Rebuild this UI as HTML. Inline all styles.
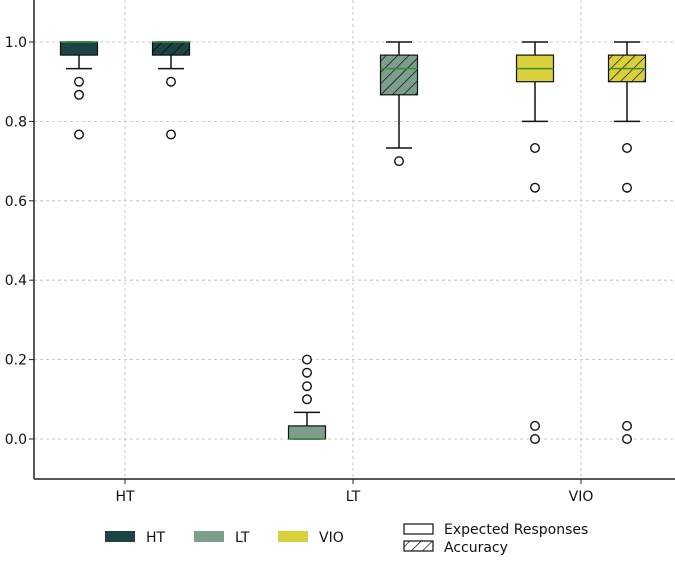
<!DOCTYPE html>
<html><head><meta charset="utf-8"><style>
body{margin:0;background:#fff;}
svg text{font-family:"DejaVu Sans","Liberation Sans",sans-serif;}
</style></head><body>
<svg id="chart" width="675" height="557" xmlns="http://www.w3.org/2000/svg">
<defs>
<pattern id="hatch" patternUnits="userSpaceOnUse" width="8" height="8" patternTransform="rotate(45)">
<line x1="0" y1="0" x2="0" y2="8" stroke="#000" stroke-width="1.3"/>
</pattern>
</defs>
<g id="grid"></g><g id="marks"></g><g id="axes"></g>
</svg>
<script>
const categories=["HT","LT","VIO"];
const colors=["#1d4444","#7c9e8b","#d9d03c"];
const yTicks=[0,0.2,0.4,0.6,0.8,1.0];
const tickLabels=["0.0","0.2","0.4","0.6","0.8","1.0"];
// [whiskerLow, q1, median, q3, whiskerHigh]
const expectedStats=[[0.933,0.967,1.0,1.0,1.0],[0,0,0.0,0.033,0.067],[0.8,0.9,0.933,0.967,1.0]];
const accuracyStats=[[0.933,0.967,1.0,1.0,1.0],[0.733,0.867,0.933,0.967,1.0],[0.8,0.9,0.933,0.967,1.0]];
const expectedOutliers=[[0.9,0.867,0.767],[0.1,0.133,0.167,0.2],[0.733,0.633,0.033,0]];
const accuracyOutliers=[[0.9,0.767],[0.7],[0.733,0.633,0.033,0]];
const NS="http://www.w3.org/2000/svg";
const y=v=>439-397*v;
const x=i=>125+228*i;
function mk(p,t,a){const e=document.createElementNS(NS,t);for(const k in a)e.setAttribute(k,a[k]);p.appendChild(e);return e;}
const grid=document.getElementById('grid'),marks=document.getElementById('marks'),axes=document.getElementById('axes');
yTicks.forEach((v,i)=>{
const g=mk(grid,'line',{x1:34,x2:675,y1:y(v),y2:y(v),stroke:'#bbb','stroke-dasharray':'3,3','stroke-width':0.8});

mk(axes,'line',{x1:29,x2:34,y1:y(v),y2:y(v),stroke:'#222','stroke-width':1});
const t=mk(axes,'text',{x:27,y:y(v)+5,'text-anchor':'end','font-size':14,fill:'#111'});t.textContent=tickLabels[i];

});
categories.forEach((c,i)=>{
const g=mk(grid,'line',{x1:x(i),x2:x(i),y1:0,y2:479,stroke:'#bbb','stroke-dasharray':'3,3','stroke-width':0.8});

mk(axes,'line',{x1:x(i),x2:x(i),y1:479,y2:484,stroke:'#222','stroke-width':1});
const t=mk(axes,'text',{x:x(i),y:501,'text-anchor':'middle','font-size':14,fill:'#111'});t.textContent=c;

});
mk(axes,'line',{x1:34,x2:34,y1:0,y2:479,stroke:'#222','stroke-width':1.5});
mk(axes,'line',{x1:34,x2:675,y1:479,y2:479,stroke:'#222','stroke-width':1.5});
function box(cx,s,out,col,hatch,name){
const g=mk(marks,'g',{});
const w=37,cap=13;
mk(g,'line',{x1:cx,x2:cx,y1:y(s[0]),y2:y(s[1]),stroke:'#111','stroke-width':1.5});
mk(g,'line',{x1:cx,x2:cx,y1:y(s[3]),y2:y(s[4]),stroke:'#111','stroke-width':1.5});
mk(g,'line',{x1:cx-cap,x2:cx+cap,y1:y(s[0]),y2:y(s[0]),stroke:'#111','stroke-width':1.5});
mk(g,'line',{x1:cx-cap,x2:cx+cap,y1:y(s[4]),y2:y(s[4]),stroke:'#111','stroke-width':1.5});
const h=Math.max(y(s[1])-y(s[3]),0.5);
mk(g,'rect',{x:cx-w/2,y:y(s[3]),width:w,height:h,fill:col,stroke:'#111','stroke-width':1.2});
if(hatch)mk(g,'rect',{x:cx-w/2,y:y(s[3]),width:w,height:h,fill:'url(#hatch)'});
mk(g,'line',{x1:cx-w/2,x2:cx+w/2,y1:y(s[2]),y2:y(s[2]),stroke:'#3a8a3a','stroke-width':1.5});
out.forEach(v=>mk(g,'circle',{cx:cx,cy:y(v),r:4.3,fill:'#fff',stroke:'#111','stroke-width':1.4}));
}
categories.forEach((c,i)=>{
box(x(i)-46,expectedStats[i],expectedOutliers[i],colors[i],false,'box-expected-'+c.toLowerCase());
box(x(i)+46,accuracyStats[i],accuracyOutliers[i],colors[i],true,'box-accuracy-'+c.toLowerCase());
});
const lg=mk(axes,'g',{});
const lx=[105,194,278];
categories.forEach((c,i)=>{
const e=mk(lg,'g',{});
mk(e,'rect',{x:lx[i],y:531,width:30,height:11,fill:colors[i]});
const t=mk(e,'text',{x:lx[i]+41,y:542,'font-size':14,fill:'#111'});t.textContent=c;
});
const e1=mk(lg,'g',{});
mk(e1,'rect',{x:404,y:524,width:29,height:10,fill:'#fff',stroke:'#111','stroke-width':1.2});
let t=mk(e1,'text',{x:444,y:534,'font-size':14,fill:'#111'});t.textContent='Expected Responses';
const e2=mk(lg,'g',{});
mk(e2,'rect',{x:404,y:541,width:29,height:10,fill:'url(#hatch)',stroke:'#111','stroke-width':1.2});
t=mk(e2,'text',{x:444,y:552,'font-size':14,fill:'#111'});t.textContent='Accuracy';
</script>
</body></html>
